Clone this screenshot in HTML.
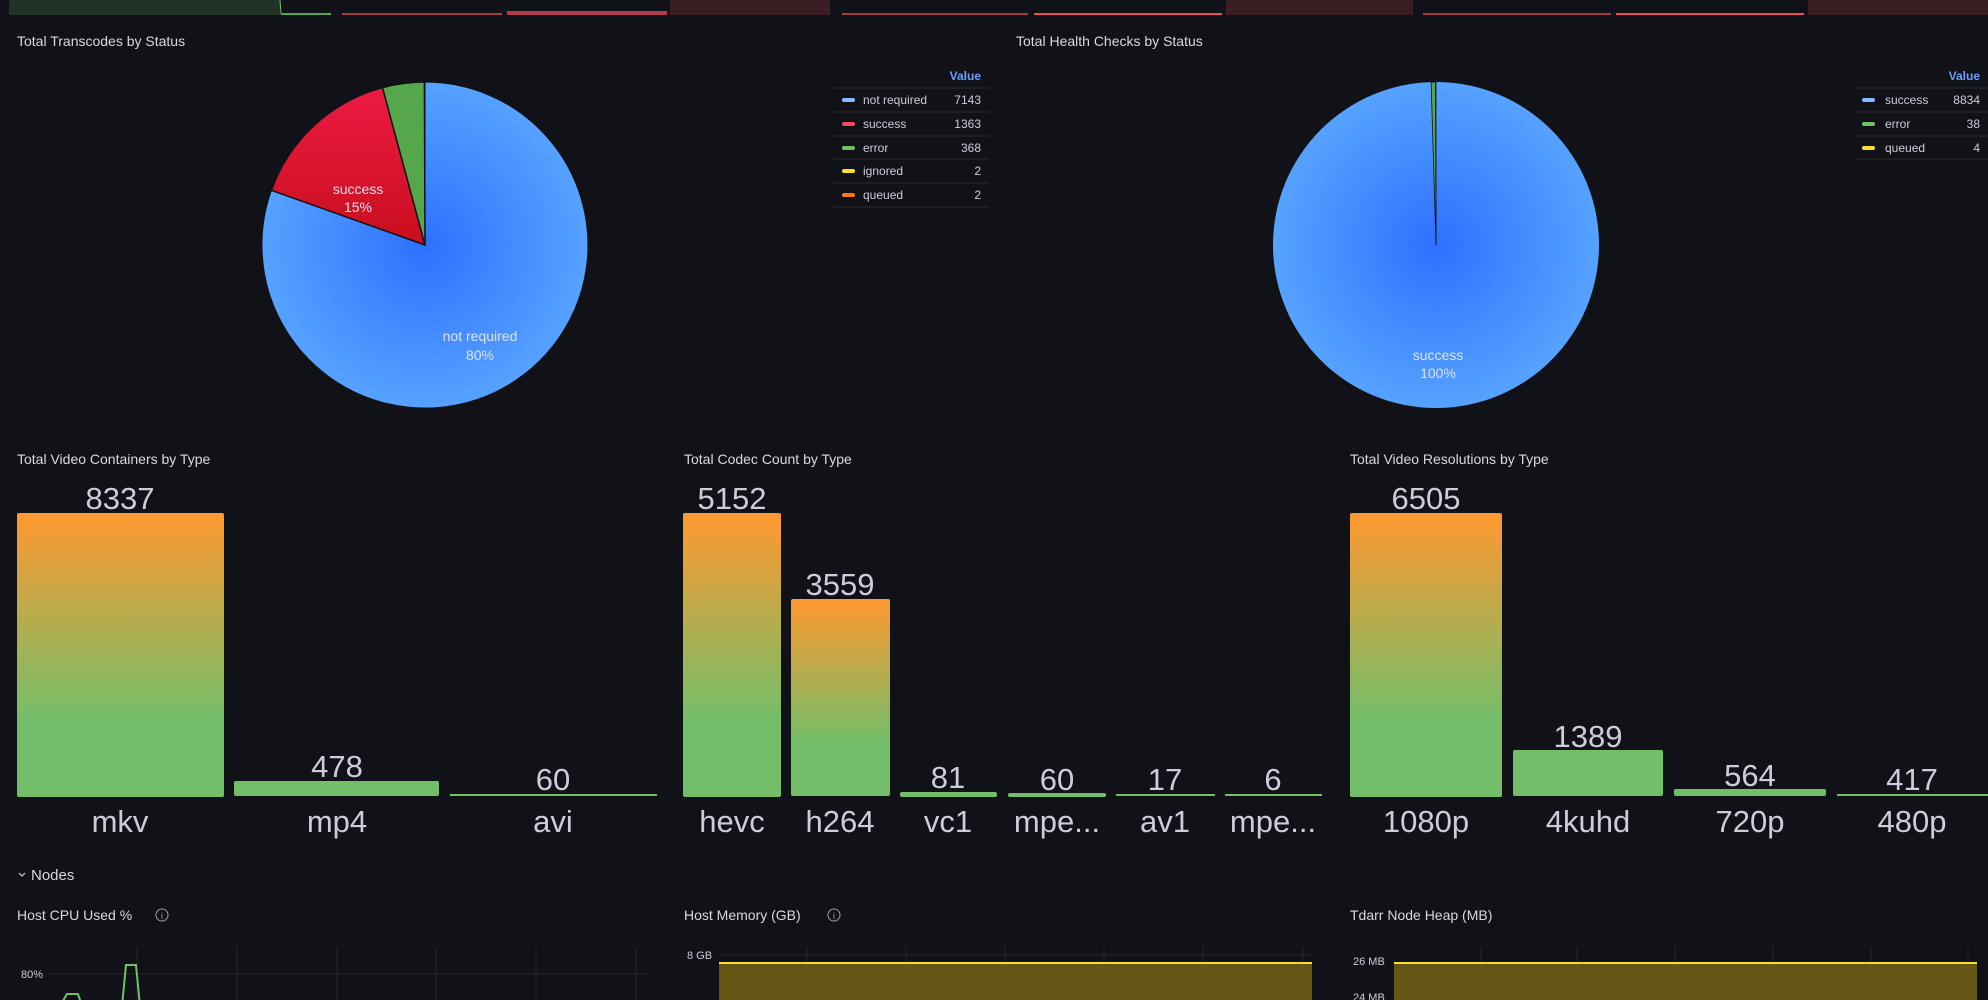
<!DOCTYPE html>
<html><head><meta charset="utf-8"><style>
html,body{margin:0;padding:0;background:#111217;width:1988px;height:1000px;overflow:hidden}
svg{display:block}
text{font-family:"Liberation Sans",sans-serif}
.t{font-size:14px;font-weight:normal;fill:#d8d9e0}
.lg{font-size:12px;fill:#ccccdc}
.v{font-size:31px;text-anchor:middle;fill:#ccccdc}
.ax{font-size:11px;fill:#ccccdc}
.pl{font-size:14px;text-anchor:middle;fill:#dde2f2}
.val{font-size:12px;font-weight:bold;text-anchor:end;fill:#6e9fff}
</style></head><body>
<svg width="1988" height="1000" viewBox="0 0 1988 1000">
<defs>
<radialGradient id="bl" cx="425" cy="245" r="163" gradientUnits="userSpaceOnUse"><stop offset="0" stop-color="#2d70ff"/><stop offset="1" stop-color="#56a2ff"/></radialGradient>
<radialGradient id="bl2" cx="1436" cy="245" r="163" gradientUnits="userSpaceOnUse"><stop offset="0" stop-color="#2d70ff"/><stop offset="1" stop-color="#56a2ff"/></radialGradient>
<linearGradient id="rd" x1="0" y1="0" x2="0" y2="1"><stop offset="0" stop-color="#ec1a42"/><stop offset="1" stop-color="#c80f1d"/></linearGradient>
<linearGradient id="g" x1="0" y1="0" x2="0" y2="1"><stop offset="0" stop-color="#ff9830"/><stop offset="0.73" stop-color="#73bf69"/><stop offset="1" stop-color="#73bf69"/></linearGradient>
</defs>
<!-- top strip -->
<rect x="9" y="0" width="271" height="15" fill="#223226"/>
<line x1="280" y1="0" x2="281" y2="14" stroke="#73bf69" stroke-width="1"/>
<line x1="281" y1="14" x2="331" y2="14" stroke="#56a64b" stroke-width="2"/>
<line x1="342" y1="14" x2="502" y2="14" stroke="#a33a48" stroke-width="2"/>
<rect x="507" y="11" width="160" height="4" fill="#b23a4a"/>
<rect x="670" y="0" width="160" height="15" fill="#3b1d24"/>
<line x1="842" y1="14" x2="1028" y2="14" stroke="#a33a48" stroke-width="2"/>
<line x1="1034" y1="14" x2="1222" y2="14" stroke="#f2495c" stroke-width="2"/>
<rect x="1226" y="0" width="187" height="15" fill="#3b1d24"/>
<line x1="1423" y1="14" x2="1611" y2="14" stroke="#a33a48" stroke-width="2"/>
<line x1="1616" y1="14" x2="1804" y2="14" stroke="#f2495c" stroke-width="2"/>
<rect x="1808" y="0" width="180" height="15" fill="#3b1d24"/>

<!-- Pie 1 -->
<text class="t" x="17" y="46">Total Transcodes by Status</text>
<path d="M425,245 L425,82 A163,163 0 1,1 271.4,190.3 Z" fill="url(#bl)" stroke="#111217" stroke-width="1"/>
<path d="M425,245 L271.4,190.3 A163,163 0 0,1 382.5,87.6 Z" fill="url(#rd)" stroke="#111217" stroke-width="1.5"/>
<path d="M425,245 L382.5,87.6 A163,163 0 0,1 424.4,82 Z" fill="#56a64b" stroke="#111217" stroke-width="1.5"/>
<text class="pl" x="358" y="194">success</text>
<text class="pl" x="358" y="212">15%</text>
<text class="pl" x="480" y="341">not required</text>
<text class="pl" x="480" y="360">80%</text>
<text class="val" x="981" y="80">Value</text>
<g stroke="#2a2b33" stroke-width="1">
<line x1="833" y1="88" x2="989" y2="88"/><line x1="833" y1="112" x2="989" y2="112"/><line x1="833" y1="136" x2="989" y2="136"/><line x1="833" y1="159" x2="989" y2="159"/><line x1="833" y1="183" x2="989" y2="183"/><line x1="833" y1="207" x2="989" y2="207"/></g>
<rect x="842" y="98" width="13" height="4" rx="2" fill="#8ab8ff"/><text class="lg" x="863" y="104">not required</text><text class="lg" x="981" y="104" text-anchor="end">7143</text>
<rect x="842" y="122" width="13" height="4" rx="2" fill="#f2495c"/><text class="lg" x="863" y="128">success</text><text class="lg" x="981" y="128" text-anchor="end">1363</text>
<rect x="842" y="146" width="13" height="4" rx="2" fill="#73bf69"/><text class="lg" x="863" y="152">error</text><text class="lg" x="981" y="152" text-anchor="end">368</text>
<rect x="842" y="169" width="13" height="4" rx="2" fill="#fade2a"/><text class="lg" x="863" y="175">ignored</text><text class="lg" x="981" y="175" text-anchor="end">2</text>
<rect x="842" y="193" width="13" height="4" rx="2" fill="#ff780a"/><text class="lg" x="863" y="199">queued</text><text class="lg" x="981" y="199" text-anchor="end">2</text>

<!-- Pie 2 -->
<text class="t" x="1016" y="46">Total Health Checks by Status</text>
<circle cx="1436" cy="245" r="163" fill="url(#bl2)"/>
<path d="M1436,245 L1431.1,82.1 A163,163 0 0,1 1435.5,82 Z" fill="#56a64b" stroke="#111217" stroke-width="0.8"/>
<line x1="1436" y1="245" x2="1436" y2="82" stroke="#111217" stroke-width="0.8"/>
<text class="pl" x="1438" y="360">success</text>
<text class="pl" x="1438" y="378">100%</text>
<text class="val" x="1980" y="80">Value</text>
<g stroke="#2a2b33" stroke-width="1">
<line x1="1855" y1="88" x2="1988" y2="88"/><line x1="1855" y1="112" x2="1988" y2="112"/><line x1="1855" y1="136" x2="1988" y2="136"/><line x1="1855" y1="159" x2="1988" y2="159"/></g>
<rect x="1862" y="98" width="13" height="4" rx="2" fill="#8ab8ff"/><text class="lg" x="1885" y="104">success</text><text class="lg" x="1980" y="104" text-anchor="end">8834</text>
<rect x="1862" y="122" width="13" height="4" rx="2" fill="#73bf69"/><text class="lg" x="1885" y="128">error</text><text class="lg" x="1980" y="128" text-anchor="end">38</text>
<rect x="1862" y="146" width="13" height="4" rx="2" fill="#fade2a"/><text class="lg" x="1885" y="152">queued</text><text class="lg" x="1980" y="152" text-anchor="end">4</text>

<!-- Containers -->
<text class="t" x="17" y="464">Total Video Containers by Type</text>
<rect x="17" y="513" width="207" height="284" rx="2" fill="url(#g)"/>
<rect x="234" y="781" width="205" height="15" rx="2" fill="#73bf69"/>
<rect x="450" y="794" width="207" height="2" fill="#73bf69"/>
<text class="v" x="120" y="509">8337</text>
<text class="v" x="337" y="777">478</text>
<text class="v" x="553" y="790">60</text>
<text class="v" x="120" y="832">mkv</text>
<text class="v" x="337" y="832">mp4</text>
<text class="v" x="553" y="832">avi</text>

<!-- Codecs -->
<text class="t" x="684" y="464">Total Codec Count by Type</text>
<rect x="683" y="513" width="98" height="284" rx="2" fill="url(#g)"/>
<rect x="791" y="599" width="99" height="197" rx="2" fill="url(#g)"/>
<rect x="900" y="792" width="97" height="5" rx="2" fill="#73bf69"/>
<rect x="1008" y="793" width="98" height="4" rx="2" fill="#73bf69"/>
<rect x="1116" y="794" width="99" height="2" fill="#73bf69"/>
<rect x="1225" y="794" width="97" height="2" fill="#73bf69"/>
<text class="v" x="732" y="509">5152</text>
<text class="v" x="840" y="595">3559</text>
<text class="v" x="948" y="788">81</text>
<text class="v" x="1057" y="790">60</text>
<text class="v" x="1165" y="790">17</text>
<text class="v" x="1273" y="790">6</text>
<text class="v" x="732" y="832">hevc</text>
<text class="v" x="840" y="832">h264</text>
<text class="v" x="948" y="832">vc1</text>
<text class="v" x="1057" y="832">mpe...</text>
<text class="v" x="1165" y="832">av1</text>
<text class="v" x="1273" y="832">mpe...</text>

<!-- Resolutions -->
<text class="t" x="1350" y="464">Total Video Resolutions by Type</text>
<rect x="1350" y="513" width="152" height="284" rx="2" fill="url(#g)"/>
<rect x="1513" y="750" width="150" height="46" rx="2" fill="#73bf69"/>
<rect x="1674" y="789" width="152" height="7" rx="2" fill="#73bf69"/>
<rect x="1837" y="794" width="151" height="2" fill="#73bf69"/>
<text class="v" x="1426" y="509">6505</text>
<text class="v" x="1588" y="747">1389</text>
<text class="v" x="1750" y="786">564</text>
<text class="v" x="1912" y="790">417</text>
<text class="v" x="1426" y="832">1080p</text>
<text class="v" x="1588" y="832">4kuhd</text>
<text class="v" x="1750" y="832">720p</text>
<text class="v" x="1912" y="832">480p</text>

<!-- Nodes -->
<path d="M19,873 L22,876 L25,873" fill="none" stroke="#ccccdc" stroke-width="1.2"/>
<text x="31" y="880" style="font-size:15px;fill:#d8d9e0">Nodes</text>
<text class="t" x="17" y="920">Host CPU Used %</text>
<circle cx="162" cy="915" r="6" fill="none" stroke="#9fa0a8" stroke-width="1"/><text x="162" y="919" style="font-size:9px;text-anchor:middle;fill:#9fa0a8">i</text>
<text class="t" x="684" y="920">Host Memory (GB)</text>
<circle cx="834" cy="915" r="6" fill="none" stroke="#9fa0a8" stroke-width="1"/><text x="834" y="919" style="font-size:9px;text-anchor:middle;fill:#9fa0a8">i</text>
<text class="t" x="1350" y="920">Tdarr Node Heap (MB)</text>

<!-- CPU chart -->
<g stroke="#25262c" stroke-width="1">
<line x1="137" y1="947" x2="137" y2="1000"/><line x1="237" y1="947" x2="237" y2="1000"/><line x1="337" y1="947" x2="337" y2="1000"/><line x1="436" y1="947" x2="436" y2="1000"/><line x1="536" y1="947" x2="536" y2="1000"/><line x1="636" y1="947" x2="636" y2="1000"/>
<line x1="50" y1="974" x2="649" y2="974"/></g>
<text class="ax" x="21" y="978">80%</text>
<polyline points="60,1006 67,994 78,994 82,1006 122,1006 126,965 136,965 140,1006" fill="none" stroke="#73bf69" stroke-width="2"/>

<!-- Memory chart -->
<g stroke="#25262c" stroke-width="1"><line x1="719" y1="955" x2="1312" y2="955"/>
<line x1="807" y1="947" x2="807" y2="963"/><line x1="906" y1="947" x2="906" y2="963"/><line x1="1005" y1="947" x2="1005" y2="963"/><line x1="1104" y1="947" x2="1104" y2="963"/><line x1="1203" y1="947" x2="1203" y2="963"/><line x1="1303" y1="947" x2="1303" y2="963"/></g>
<rect x="719" y="963" width="593" height="37" fill="#665616"/>
<g stroke="#6c5b1d" stroke-width="1"><line x1="807" y1="963" x2="807" y2="1000"/><line x1="906" y1="963" x2="906" y2="1000"/><line x1="1005" y1="963" x2="1005" y2="1000"/><line x1="1104" y1="963" x2="1104" y2="1000"/><line x1="1203" y1="963" x2="1203" y2="1000"/><line x1="1303" y1="963" x2="1303" y2="1000"/></g>
<line x1="719" y1="963" x2="1312" y2="963" stroke="#fade2a" stroke-width="2"/>
<text class="ax" x="687" y="959">8 GB</text>

<!-- Heap chart -->
<g stroke="#25262c" stroke-width="1"><line x1="1481" y1="947" x2="1481" y2="963"/><line x1="1577" y1="947" x2="1577" y2="963"/><line x1="1675" y1="947" x2="1675" y2="963"/><line x1="1773" y1="947" x2="1773" y2="963"/><line x1="1871" y1="947" x2="1871" y2="963"/><line x1="1968" y1="947" x2="1968" y2="963"/></g>
<rect x="1394" y="963" width="583" height="37" fill="#665616"/>
<g stroke="#6c5b1d" stroke-width="1"><line x1="1481" y1="963" x2="1481" y2="1000"/><line x1="1577" y1="963" x2="1577" y2="1000"/><line x1="1675" y1="963" x2="1675" y2="1000"/><line x1="1773" y1="963" x2="1773" y2="1000"/><line x1="1871" y1="963" x2="1871" y2="1000"/><line x1="1968" y1="963" x2="1968" y2="1000"/></g>
<line x1="1394" y1="963" x2="1977" y2="963" stroke="#fade2a" stroke-width="2"/>
<text class="ax" x="1353" y="965">26 MB</text>
<text class="ax" x="1353" y="1001">24 MB</text>
</svg>
</body></html>
